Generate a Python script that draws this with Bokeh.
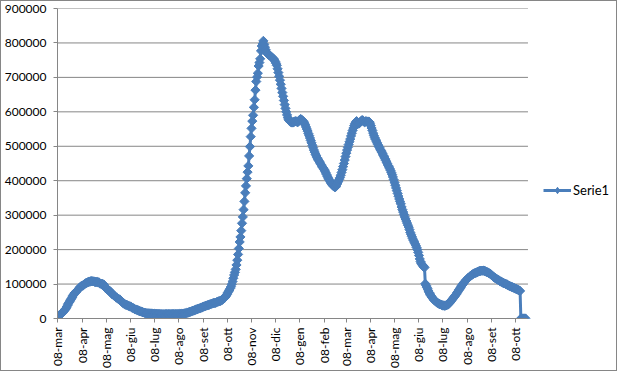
import numpy as np
import pandas as pd
from bokeh.plotting import figure
from bokeh.models import Range1d, FixedTicker, NumeralTickFormatter, Legend, LegendItem
from bokeh.embed import file_html
from bokeh.resources import INLINE

start_date = "2020-03-08"

m2020_03 = [6387, 7985, 8514, 10590, 12839, 14955, 17750, 20603, 23073, 26062,
            28710, 33190, 37860, 42681, 46638, 50418, 54030, 57521, 62013, 66414,
            70065, 73880, 75528, 77635]
m2020_04 = [80572, 83049, 85388, 88274, 91246, 93187, 94067, 95262, 96877, 98273,
            100269, 102253, 103616, 104291, 105418, 106607, 106962, 107771, 108257, 108237,
            107709, 107699, 106848, 106527, 105847, 106103, 105813, 105205, 104657, 101551]
m2020_05 = [100943, 100704, 100179, 99980, 98467, 91528, 89624, 87961, 84842, 83324,
            82488, 81266, 78457, 76440, 72070, 70187, 68351, 66553, 65129, 62752,
            60960, 59322, 57752, 56594, 55300, 52942, 50966, 47986, 46175, 43691,
            42075]
m2020_06 = [41367, 39893, 39297, 38429, 36976, 35877, 35262, 34730, 32872, 31710,
            30637, 28997, 27485, 26274, 25909, 24569, 23925, 23101, 21543, 20972,
            20637, 19573, 18655, 17638, 16681, 16496, 15563, 15255, 15060, 14621]
m2020_07 = [14884, 14642, 14621, 14361, 14242, 14100, 13595, 13428, 13303, 13179,
            13157, 12919, 12772, 12610, 12493, 12456, 12404, 12368, 12301, 12248,
            12322, 12404, 12442, 12456, 12482, 12565, 12581, 12404, 12442, 12565,
            12646]
m2020_08 = [12693, 12646, 12474, 12482, 12565, 12616, 12809, 12924, 13032, 13180,
            13265, 13630, 13966, 14406, 14764, 15089, 15360, 16014, 16678, 17503,
            18438, 19195, 19714, 20753, 21932, 22926, 23035, 24205, 25205, 25961,
            26754]
m2020_09 = [27817, 28632, 29373, 30099, 31194, 32078, 32993, 34114, 35008, 35563,
            36767, 37503, 38509, 39187, 39712, 40532, 41413, 42457, 43161, 44098,
            44993, 45079, 45489, 46114, 47718, 48593, 49318, 50323, 50630, 51263]
m2020_10 = [52647, 54791, 56353, 58903, 60134, 62576, 65952, 70110, 74829, 79075,
            82764, 87193, 92174, 99266, 107312, 116935, 126237, 134003, 142739, 155442,
            169302, 186002, 203182, 222241, 236684, 255090, 276457, 294932, 316000, 340000,
            365000]
m2020_11 = [385000, 406000, 425000, 443000, 472000, 499000, 528000, 552000, 573000, 590000,
            613000, 635000, 663000, 688000, 701000, 712000, 733000, 743000, 754000, 777000,
            791000, 797000, 806000, 796000, 788000, 780000, 774000, 770000, 767000, 765000]
m2020_12 = [763000, 762000, 760000, 758000, 756000, 754000, 750000, 746000, 741000, 735000,
            725000, 714000, 703000, 692000, 680000, 668000, 656000, 645000, 633000, 621000,
            610000, 600000, 591000, 583000, 577000, 574000, 572000, 570000, 569000, 569000,
            570000]
m2021_01 = [571000, 572000, 573000, 572000, 570000, 571000, 574000, 577000, 579000, 578000,
            576000, 574000, 571000, 567000, 562000, 556000, 550000, 544000, 537000, 531000,
            524000, 517000, 510000, 503000, 496000, 489000, 483000, 477000, 472000, 467000,
            463000]
m2021_02 = [459000, 455000, 451000, 447000, 443000, 439000, 436000, 432000, 428000, 423000,
            418000, 413000, 408000, 404000, 400000, 396000, 392000, 389000, 386000, 384000,
            382000, 381000, 384000, 389000, 394000, 399000, 404000, 409000]
m2021_03 = [416000, 424000, 432000, 441000, 450000, 460000, 470000, 480000, 489000, 497000,
            505000, 513000, 521000, 530000, 538000, 546000, 553000, 560000, 566000, 570000,
            573000, 570000, 566000, 566000, 568000, 571000, 574000, 576000, 575000, 572000,
            570000]
m2021_04 = [571000, 573000, 572000, 571000, 572000, 571000, 567000, 560000, 553000, 546000,
            538000, 531000, 525000, 520000, 515000, 510000, 505000, 500000, 496000, 491000,
            487000, 483000, 478000, 473000, 469000, 464000, 459000, 454000, 449000, 444000]
m2021_05 = [440000, 435000, 430000, 424000, 418000, 411000, 403000, 395000, 387000, 379000,
            371000, 363000, 355000, 347000, 340000, 333000, 324000, 316000, 309000, 302000,
            295000, 289000, 283000, 277000, 271000, 265000, 258000, 250000, 244000, 238000,
            232000]
m2021_06 = [227000, 222000, 217000, 212000, 206000, 200000, 192000, 183000, 173000, 165000,
            160000, 156000, 153000, 150000, 148000, 101000, 96000, 91000, 86000, 80000,
            75000, 71000, 67000, 63000, 60000, 57000, 54000, 52000, 50000, 48000]
m2021_07 = [46000, 45000, 43000, 42000, 41000, 40000, 39000, 38000, 38000, 37000,
            37000, 38000, 39000, 40000, 41000, 43000, 46000, 49000, 52000, 55000,
            58000, 61000, 64000, 67000, 70000, 74000, 77000, 81000, 84000, 88000,
            91000]
m2021_08 = [95000, 98000, 101000, 104000, 107000, 110000, 112000, 114000, 117000, 119000,
            121000, 123000, 125000, 127000, 128000, 130000, 131000, 132000, 133000, 134000,
            135000, 136000, 137000, 138000, 138000, 139000, 139000, 139000, 139000, 138000,
            137000]
m2021_09 = [136000, 135000, 134000, 133000, 131000, 130000, 128000, 126000, 124000, 122000,
            120000, 118000, 117000, 115000, 114000, 112000, 111000, 109000, 108000, 107000,
            106000, 104000, 103000, 102000, 101000, 100000, 99000, 98000, 96000, 95000]
m2021_10 = [94000, 93000, 92000, 91000, 90000, 89000, 88000, 87000, 86000, 85000,
            84000, 82000, 81000, 80000, 0, 0, 0, 0, 0, 0,
            0]

tick_dates = ["2020-03-08", "2020-04-08", "2020-05-08", "2020-06-08", "2020-07-08",
              "2020-08-08", "2020-09-08", "2020-10-08", "2020-11-08", "2020-12-08",
              "2021-01-08", "2021-02-08", "2021-03-08", "2021-04-08", "2021-05-08",
              "2021-06-08", "2021-07-08", "2021-08-08", "2021-09-08", "2021-10-08"]
tick_labels = ["08-mar", "08-apr", "08-mag", "08-giu", "08-lug", "08-ago", "08-set",
               "08-ott", "08-nov", "08-dic", "08-gen", "08-feb", "08-mar", "08-apr",
               "08-mag", "08-giu", "08-lug", "08-ago", "08-set", "08-ott"]
y_ticks = [0, 100000, 200000, 300000, 400000, 500000, 600000, 700000, 800000, 900000]
series_name = "Serie1"

values = (m2020_03 + m2020_04 + m2020_05 + m2020_06 + m2020_07 + m2020_08 + m2020_09
          + m2020_10 + m2020_11 + m2020_12 + m2021_01 + m2021_02 + m2021_03 + m2021_04
          + m2021_05 + m2021_06 + m2021_07 + m2021_08 + m2021_09 + m2021_10)

t0 = pd.Timestamp(start_date)
dates = pd.date_range(start_date, periods=len(values), freq="D")
day = np.array([(d - t0).days for d in dates])
tick_days = [int((pd.Timestamp(d) - t0).days) for d in tick_dates]

BLUE = "#4A7EBB"
GRID = "#868686"
FONT = "Lato"

# plot-area extent in days (the frame continues to the right to host the legend)
AREA_START, AREA_END = -0.6, 595.0
FRAME_END = AREA_START + (AREA_END - AREA_START) * 564.0 / 473.0

p = figure(width=617, height=371, output_backend="svg", toolbar_location=None,
           x_range=Range1d(AREA_START, FRAME_END), y_range=Range1d(0, 900000),
           min_border_left=53, min_border_right=0, min_border_top=7, min_border_bottom=54)
p.styles = {"border": "1px solid #868686"}
p.outline_line_color = None
p.background_fill_color = "white"
p.border_fill_color = "white"
p.xgrid.grid_line_color = None
p.ygrid.grid_line_color = None

# horizontal gridlines limited to the plot area
p.segment(x0=[AREA_START] * len(y_ticks), y0=y_ticks,
          x1=[AREA_END] * len(y_ticks), y1=y_ticks,
          line_color=GRID, line_width=1)

r_line = p.line(day, values, line_color=BLUE, line_width=3)
r_mark = p.scatter(day, values, marker="square", size=6.5, angle=np.pi / 4,
                   fill_color=BLUE, line_color=BLUE)
# legend swatch marker (diamond); its single point is NaN so nothing shows in the plot
r_swatch = p.scatter(x=[np.nan], y=[np.nan], marker="diamond", size=9,
                     fill_color=BLUE, line_color=BLUE)

p.yaxis.ticker = FixedTicker(ticks=y_ticks)
p.yaxis.formatter = NumeralTickFormatter(format="0")
p.xaxis.ticker = FixedTicker(ticks=tick_days)
p.xaxis.bounds = (AREA_START, AREA_END)
p.xaxis.major_label_overrides = {d: lab for d, lab in zip(tick_days, tick_labels)}
p.xaxis.major_label_orientation = np.pi / 2

for ax in (p.xaxis, p.yaxis):
    ax.axis_line_color = GRID
    ax.major_tick_line_color = GRID
    ax.minor_tick_line_color = None
    ax.major_tick_in = 0
    ax.major_tick_out = 4
    ax.major_label_text_font = FONT
    ax.major_label_text_font_size = "12px"
    ax.major_label_text_color = "black"
p.yaxis.major_label_standoff = 7
p.xaxis.major_label_standoff = 5

legend = Legend(items=[LegendItem(label=series_name, renderers=[r_line, r_swatch])],
                location=(486, 120), padding=5, margin=0, spacing=0,
                glyph_width=28, glyph_height=16, label_standoff=2,
                border_line_color=None, background_fill_alpha=0,
                label_text_font=FONT, label_text_font_size="13px",
                label_text_color="black")
p.add_layout(legend)

open("out.html", "w").write(file_html(p, INLINE))
